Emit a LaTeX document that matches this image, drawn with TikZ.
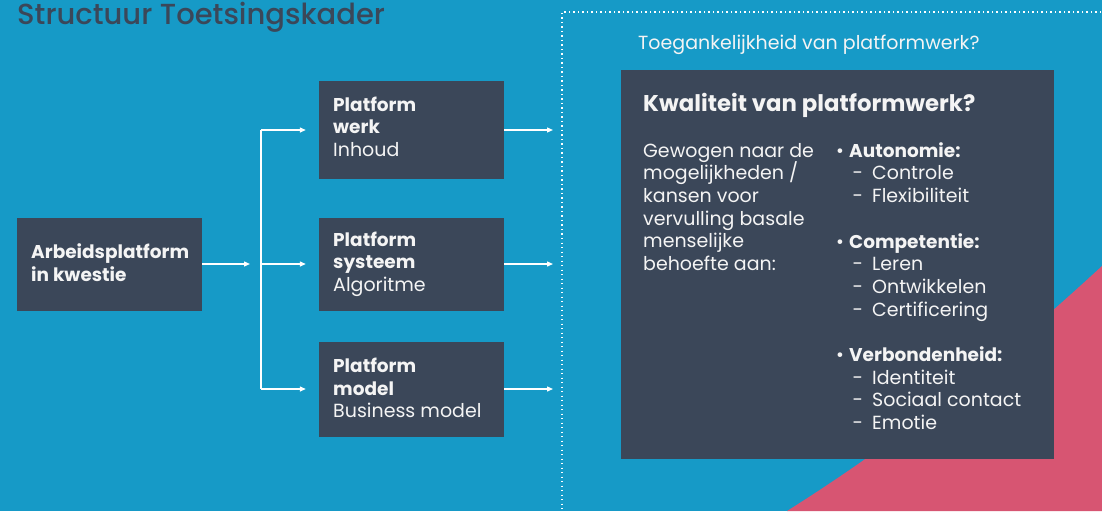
\documentclass[tikz,border=0pt]{standalone}
\usepackage{fontspec}
\setmainfont{Poppins}
\newfontfamily\titlefont{Poppins Medium}
\usetikzlibrary{arrows.meta}
\definecolor{bgblue}{HTML}{169AC7}
\definecolor{boxdark}{HTML}{3B4759}
\definecolor{pinkc}{HTML}{D75572}
\definecolor{txtw}{HTML}{F4F4F4}
\tikzset{
  boxnode/.style={fill=boxdark, draw=none, inner sep=0pt, minimum width=185pt},
  txt/.style={anchor=base west, inner sep=0pt, text=txtw, font=\fontsize{19}{22}\selectfont},
  btxt/.style={txt, font=\fontsize{18.5}{22}\selectfont\bfseries},
  conn/.style={draw=white, line width=1.3pt},
  arr/.style={conn, -{Triangle[length=6pt,width=5pt]}},
  dotline/.style={draw=white, line width=1.3pt, dash pattern=on 1.3pt off 3.2pt}
}
\begin{document}
\begin{tikzpicture}[x=1pt,y=-1pt]
\useasboundingbox (0,0) rectangle (1102,511);
\fill[bgblue] (0,0) rectangle (1102,511);
\fill[pinkc] (787,511) .. controls (900,440) and (1000,360) .. (1102,266) -- (1102,511) -- cycle;
% dotted frame
\coordinate (dtr) at (1110,12);
\coordinate (dtl) at (562,12);
\coordinate (dbl) at (562,520);
\draw[dotline] (dtr) -- (dtl) -- (dbl);
% title
\node[anchor=base west, inner sep=0pt, text=boxdark, font=\titlefont\fontsize{29}{31}\selectfont] (title) at (17,25) {Structuur Toetsingskader};
% boxes
\node[boxnode, minimum height=93pt] (arb) at (109.5,264.5) {};
\node[boxnode, minimum height=98pt] (werk) at (411.5,130) {};
\node[boxnode, minimum height=93pt] (sys) at (411.5,264.5) {};
\node[boxnode, minimum height=95pt] (mod) at (411.5,389.5) {};
\node[fill=boxdark, inner sep=0pt, minimum width=433pt, minimum height=389pt] (kw) at (837.5,264.5) {};
% box texts
\node[btxt] (a1) at (31,258) {Arbeidsplatform};
\node[btxt] (a2) at (31,281) {in kwestie};
\node[btxt] (w1) at (333,111) {Platform};
\node[btxt] (w2) at (333,133) {werk};
\node[txt] (w3) at (333,156) {Inhoud};
\node[btxt] (s1) at (333,246) {Platform};
\node[btxt] (s2) at (333,268) {systeem};
\node[txt] (s3) at (333,291) {Algoritme};
\node[btxt] (m1) at (333,372) {Platform};
\node[btxt] (m2) at (333,395) {model};
\node[txt] (m3) at (333,417) {Business model};
% connectors
\coordinate (c1) at (250,264);
\coordinate (jt) at (261,130);
\coordinate (jb) at (261,389);
\coordinate (jm) at (261,264);
\draw[arr] (arb.east |- c1) -- (c1);
\draw[conn] (jt) -- (jb);
\draw[arr, shorten >=13pt] (jt) -- (werk.west);
\draw[arr, shorten >=13pt] (jm) -- (sys.west |- jm);
\draw[arr, shorten >=13pt] (jb) -- (mod.west |- jb);
\coordinate (o1) at (553,130);
\coordinate (o2) at (553,264);
\coordinate (o3) at (553,389);
\draw[arr] (werk.east |- o1) -- (o1);
\draw[arr] (sys.east |- o2) -- (o2);
\draw[arr] (mod.east |- o3) -- (o3);
% right panel
\node[txt] (toeg) at (638,49) {Toegankelijkheid van platformwerk?};
\node[btxt, font=\fontsize{22.8}{26}\selectfont\bfseries] (kwt) at (643,111) {Kwaliteit van platformwerk?};
\foreach \t [count=\i from 0] in {Gewogen naar de, mogelijkheden /, kansen voor, vervulling basale, menselijke, behoefte aan:}
  \node[txt] (g\i) at (643,157+22.7*\i) {\t};
\foreach \t/\y [count=\i] in {Autonomie:/157, Competentie:/248, Verbondenheid:/361}{
  \node[txt] (b\i) at (836,\y) {•};
  \node[btxt] (bl\i) at (849,\y) {\t};
}
\foreach \t/\y [count=\i] in {Controle/179, Flexibiliteit/202, Leren/270, Ontwikkelen/293, Certificering/316, Identiteit/384, Sociaal contact/406, Emotie/429}{
  \node[txt] (d\i) at (852.5,\y) {-};
  \node[txt] (it\i) at (872,\y) {\t};
}
\end{tikzpicture}
\end{document}
